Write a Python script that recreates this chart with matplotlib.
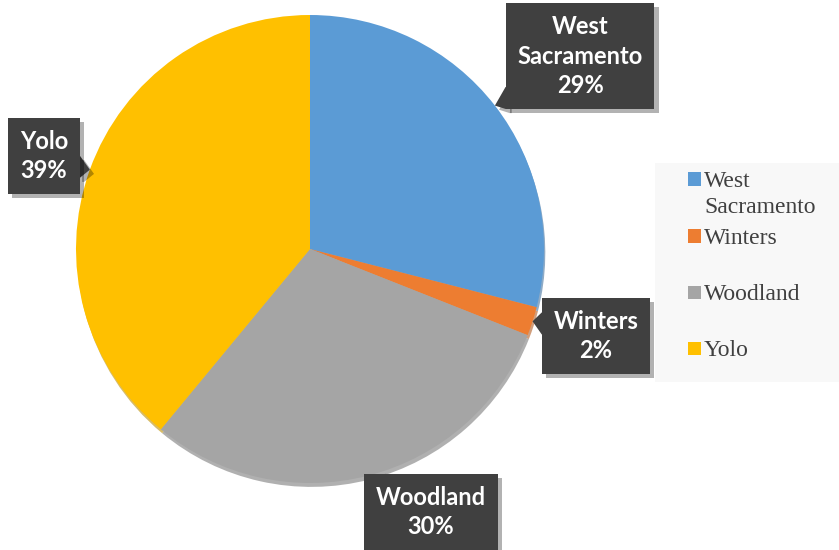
import matplotlib.pyplot as plt
import matplotlib.patheffects as pe
from matplotlib.patches import Rectangle, Polygon
import numpy as np

labels = ["West Sacramento", "Winters", "Woodland", "Yolo"]
label_lines = ["West\nSacramento", "Winters", "Woodland", "Yolo"]
shares = [29, 2, 30, 39]
colors = ["#5B9BD5", "#ED7D31", "#A5A5A5", "#FFC000"]

# where the callout boxes sit (figure pixels, centre of box)
box_pos = [(580, 494), (596, 214), (431, 38), (44, 394)]

W, H = 839, 550
fig = plt.figure(figsize=(W / 100, H / 100), dpi=100)
fig.patch.set_facecolor("white")

# pie axes: centre (310, 249 from top), radius 234 px
r = 234
ax = fig.add_axes([(310 - r) / W, (H - 249 - r) / H, 2 * r / W, 2 * r / H])
wedges, _ = ax.pie(shares, colors=colors, startangle=90, counterclock=False,
                   radius=1, shadow={"ox": 0.004, "oy": -0.012, "shade": 0.25,
                                     "alpha": 0.6},
                   wedgeprops=dict(linewidth=0))
ax.set_xlim(-1, 1)
ax.set_ylim(-1, 1)
ax.set_aspect("equal")
ax.axis("off")

shadow = [pe.SimplePatchShadow(offset=(3, -3), shadow_rgbFace="#000000", alpha=0.3),
          pe.Normal()]

total = sum(shares)
start = 90.0
callouts = []
for i, s in enumerate(shares):
    span = s / total * 360
    mid = np.deg2rad(start - span / 2)
    start -= span
    txt = f"{label_lines[i]}\n{s}%"
    t = fig.text(box_pos[i][0] / W, box_pos[i][1] / H, txt,
                 ha="center", va="center", color="white", fontsize=17,
                 fontweight="bold", family="Lato", linespacing=1.35,
                 bbox=dict(boxstyle="square,pad=0.5", fc="#404040",
                           ec="none", lw=0), zorder=5)
    t.get_bbox_patch().set_path_effects(shadow)
    callouts.append((t, (np.cos(mid), np.sin(mid))))

# pointer triangles from each box edge to the middle of its slice
fig.canvas.draw()
for t, tip in callouts:
    bb = t.get_bbox_patch().get_window_extent()
    tx, ty = ax.transData.transform(tip)
    cx, cy = (bb.x0 + bb.x1) / 2, (bb.y0 + bb.y1) / 2
    dx, dy = tx - cx, ty - cy
    # where the centre->tip line leaves the box
    sx = (bb.width / 2) / abs(dx) if dx else np.inf
    sy = (bb.height / 2) / abs(dy) if dy else np.inf
    hw = 11
    if sx < sy:
        ex = cx + dx * sx
        ey = np.clip(cy + dy * sx, bb.y0 + hw, bb.y1 - hw)
        base = [(ex, ey - hw), (ex, ey + hw)]
        inner = [(ex - np.sign(dx) * 2, ey - hw), (ex - np.sign(dx) * 2, ey + hw)]
    else:
        ey = cy + dy * sy
        ex = np.clip(cx + dx * sy, bb.x0 + hw, bb.x1 - hw)
        base = [(ex - hw, ey), (ex + hw, ey)]
        inner = [(ex - hw, ey - np.sign(dy) * 2), (ex + hw, ey - np.sign(dy) * 2)]
    poly = Polygon([inner[0], base[0], (tx, ty), base[1], inner[1]],
                   closed=True, transform=None, fc="#404040", ec="none",
                   zorder=4.9)
    poly.set_path_effects(shadow)
    fig.patches.append(poly)

# legend drawn by hand so the wrapped label overflows like the original
fig.patches.append(Rectangle((655 / W, (H - 382) / H), (W - 655) / W, 219 / H,
                             transform=fig.transFigure, fc="#F8F8F8", ec="none",
                             zorder=0))
marker_y = [179, 236, 292, 348]
line_gap = 26
for i, lab in enumerate(label_lines):
    y = H - marker_y[i]
    fig.patches.append(Rectangle((688 / W, (y - 6.5) / H), 13 / W, 13 / H,
                                 transform=fig.transFigure, fc=colors[i],
                                 ec="none", zorder=2))
    for k, part in enumerate(lab.split("\n")):
        fig.text(704 / W, (y - 8 - k * line_gap) / H, part, ha="left",
                 va="baseline", family="Liberation Serif", fontsize=17,
                 color="#404040")

fig.savefig("out.png", dpi=100)
